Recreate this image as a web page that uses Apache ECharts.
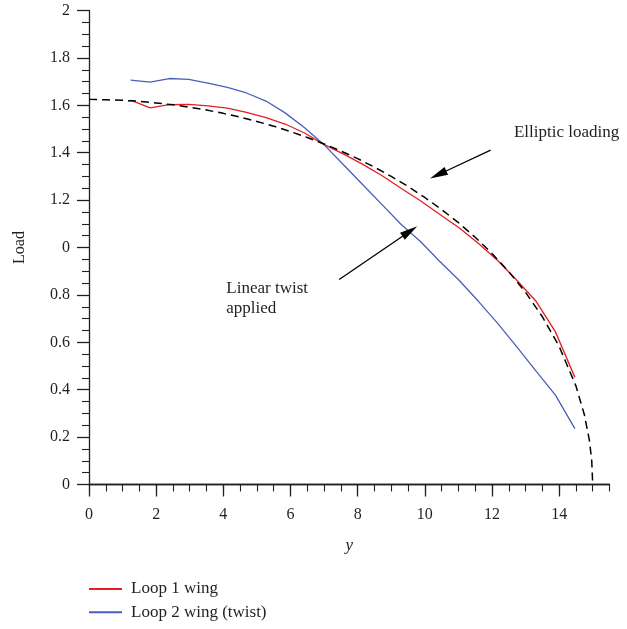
<!DOCTYPE html>
<html>
<head>
<meta charset="utf-8">
<script src="https://cdn.jsdelivr.net/npm/echarts@6/dist/echarts.min.js"></script>
<style>
  html, body { margin: 0; padding: 0; background: #fff; }
  #chart { width: 627px; height: 629px; }
</style>
</head>
<body>
<div id="chart"></div>
<script>
// Spanwise stations (y) where the two wing loads were computed
const spanY = [1.24, 1.82, 2.39, 2.97, 3.54, 4.12, 4.69, 5.27, 5.84, 6.42, 6.99, 7.57,
               8.14, 8.72, 9.29, 9.87, 10.44, 11.02, 11.59, 12.17, 12.74, 13.32, 13.89, 14.47];
// Loop 1 wing load
const loop1Load = [1.622, 1.589, 1.603, 1.604, 1.598, 1.588, 1.570, 1.548, 1.521, 1.483, 1.435, 1.395,
                   1.352, 1.304, 1.250, 1.197, 1.140, 1.083, 1.018, 0.945, 0.862, 0.772, 0.644, 0.452];
// Loop 2 wing load (linear twist)
const loop2Load = [1.706, 1.698, 1.713, 1.709, 1.694, 1.676, 1.652, 1.618, 1.568, 1.505, 1.435, 1.350,
                   1.267, 1.182, 1.098, 1.025, 0.942, 0.862, 0.774, 0.680, 0.581, 0.477, 0.377, 0.236];
// Elliptic reference loading
const ellipticY = [0, 0.5, 1, 1.5, 2, 2.5, 3, 3.5, 4, 4.5, 5, 5.5, 6, 6.5, 7, 7.5, 8, 8.5, 9, 9.5,
                   10, 10.5, 11, 11.5, 12, 12.5, 13, 13.5, 14, 14.5, 14.75, 14.9, 14.97, 15];
const ellipticLoad = [1.625, 1.623, 1.621, 1.617, 1.610, 1.602, 1.592, 1.580, 1.566, 1.550, 1.532, 1.512,
                      1.489, 1.464, 1.437, 1.407, 1.375, 1.339, 1.300, 1.258, 1.211, 1.160, 1.105, 1.043,
                      0.975, 0.898, 0.811, 0.708, 0.583, 0.416, 0.295, 0.187, 0.103, 0];
// Axis tick labels
const xTickValues = [0, 2, 4, 6, 8, 10, 12, 14];
const yTickLabels = ['0', '0.2', '0.4', '0.6', '0.8', '0', '1.2', '1.4', '1.6', '1.8', '2'];

const seriesNames = ['Loop 1 wing', 'Loop 2 wing (twist)'];

// Callout arrows, given in data units: tail -> tip
const calloutArrows = [
  { from: [11.96, 1.411], to: [10.155, 1.291] },
  { from: [7.45, 0.865], to: [9.776, 1.090] }
];
// Callout texts, anchored at their left edge, in data units
const calloutTexts = [
  { at: [12.64, 1.4836], text: 'Elliptic loading' },
  { at: [4.074, 0.785], text: 'Linear twist\napplied' }
];

const FONT = "'Liberation Serif', 'DejaVu Serif', serif";
const INK = '#231f20';

const pairs = (xs, ys) => xs.map((x, i) => [x, ys[i]]);

const chart = echarts.init(document.getElementById('chart'), null, { renderer: 'canvas' });

const axisText = { color: INK, fontFamily: FONT, fontSize: 16 };

chart.setOption({
  animation: false,
  backgroundColor: '#fff',
  textStyle: { fontFamily: FONT, color: INK },
  grid: { left: 89, top: 10.5, width: 520.5, height: 474, containLabel: false },
  legend: {
    orient: 'vertical',
    left: 89,
    top: 580,
    padding: 0,
    itemWidth: 33,
    itemHeight: 2,
    itemGap: 5.3,
    icon: 'rect',
    data: seriesNames,
    textStyle: { color: INK, fontFamily: FONT, fontSize: 17, lineHeight: 18, padding: [0, 0, 0, 4] }
  },
  xAxis: [
    {
      type: 'value', position: 'bottom', min: 0, max: 15.5, interval: 2,
      name: 'y', nameLocation: 'middle', nameGap: 53,
      nameTextStyle: { color: INK, fontFamily: FONT, fontSize: 17, fontStyle: 'italic' },
      axisLine: { show: true, onZero: false, lineStyle: { color: INK, width: 1.3 } },
      axisTick: { show: true, length: 12, customValues: xTickValues, lineStyle: { color: INK, width: 1.3 } },
      axisLabel: Object.assign({ margin: 22, customValues: xTickValues }, axisText),
      splitLine: { show: false }
    },
    {
      type: 'value', position: 'bottom', offset: 0, min: 0, max: 15.5, interval: 0.5,
      axisLine: { show: true, onZero: false, lineStyle: { color: INK, width: 1.3 } },
      axisTick: { show: true, length: 7, lineStyle: { color: INK, width: 1.1 } },
      axisLabel: { show: false },
      splitLine: { show: false }
    }
  ],
  yAxis: {
    type: 'value', min: 0, max: 2, interval: 0.2,
    name: 'Load', nameLocation: 'middle', nameGap: 61, nameRotate: 90,
    nameTextStyle: { color: INK, fontFamily: FONT, fontSize: 16 },
    axisLine: { show: true, onZero: false, lineStyle: { color: INK, width: 1.3 } },
    axisTick: { show: true, length: 12, lineStyle: { color: INK, width: 1.3 } },
    minorTick: { show: true, splitNumber: 4, length: 7, lineStyle: { color: INK, width: 1.1 } },
    axisLabel: Object.assign({
      margin: 19,
      formatter: v => yTickLabels[Math.round(v / 0.2)]
    }, axisText),
    splitLine: { show: false },
    minorSplitLine: { show: false }
  },
  series: [
    {
      name: seriesNames[0], type: 'line', xAxisIndex: 0,
      data: pairs(spanY, loop1Load),
      showSymbol: false, symbol: 'none',
      lineStyle: { color: '#e31e24', width: 1.3 },
      itemStyle: { color: '#e31e24' },
      z: 3
    },
    {
      name: seriesNames[1], type: 'line', xAxisIndex: 0,
      data: pairs(spanY, loop2Load),
      showSymbol: false, symbol: 'none',
      lineStyle: { color: '#4b5fba', width: 1.3 },
      itemStyle: { color: '#4b5fba' },
      z: 3
    },
    {
      name: 'Elliptic loading', type: 'line', xAxisIndex: 0,
      data: pairs(ellipticY, ellipticLoad),
      showSymbol: false, symbol: 'none',
      lineStyle: { color: '#000', width: 1.5, type: [8, 5] },
      z: 4,
      markPoint: {
        silent: true,
        symbol: 'circle',
        symbolSize: 1,
        itemStyle: { color: 'rgba(0,0,0,0)' },
        label: {
          show: true, position: 'right', distance: 0,
          color: INK, fontFamily: FONT, fontSize: 17, lineHeight: 20, align: 'left'
        },
        data: calloutTexts.map(c => ({ coord: c.at, label: { formatter: c.text } }))
      }
    }
  ]
});

// Arrows: shaft plus a filled triangular head, placed through the chart's own scales
function drawArrows() {
  const HEAD_LEN = 18, HEAD_HALF = 4.2;
  const elements = [];
  calloutArrows.forEach(a => {
    const p0 = chart.convertToPixel({ xAxisIndex: 0, yAxisIndex: 0 }, a.from);
    const p1 = chart.convertToPixel({ xAxisIndex: 0, yAxisIndex: 0 }, a.to);
    const dx = p1[0] - p0[0], dy = p1[1] - p0[1];
    const len = Math.hypot(dx, dy);
    const ux = dx / len, uy = dy / len;
    const bx = p1[0] - ux * HEAD_LEN, by = p1[1] - uy * HEAD_LEN;
    elements.push({
      type: 'line', silent: true, z: 10,
      shape: { x1: p0[0], y1: p0[1], x2: bx + ux * 2, y2: by + uy * 2 },
      style: { stroke: '#000', lineWidth: 1.3 }
    });
    elements.push({
      type: 'polygon', silent: true, z: 10,
      shape: { points: [
        [p1[0], p1[1]],
        [bx - uy * HEAD_HALF, by + ux * HEAD_HALF],
        [bx + uy * HEAD_HALF, by - ux * HEAD_HALF]
      ] },
      style: { fill: '#000' }
    });
  });
  chart.setOption({ graphic: { elements } });
}
drawArrows();
</script>
</body>
</html>
